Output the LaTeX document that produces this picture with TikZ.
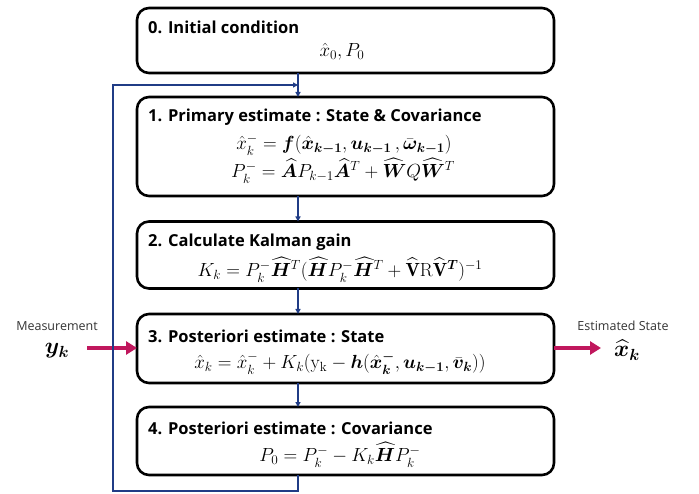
\RequirePackage{fix-cm}
\documentclass[tikz,border=0pt]{standalone}
\usepackage{amsmath,amssymb,bm}
\usepackage{fontspec}
\newfontfamily\hdfont{Open Sans}
\newfontfamily\sdfont{Open Sans}
\usetikzlibrary{arrows.meta}
\definecolor{navy}{HTML}{203C86}
\definecolor{pinkarrow}{HTML}{C0175D}
\definecolor{lbl}{HTML}{333333}
\tikzset{
  box/.style={draw=black, line width=2.6pt, rounded corners=12pt, minimum width=417pt, inner sep=0pt, outer sep=0pt},
  head/.style={anchor=west, inner sep=0pt, font=\hdfont\bfseries\fontsize{16.5}{19}\selectfont},
  eq/.style={inner sep=0pt, font=\fontsize{19}{23}\selectfont},
  nav/.style={draw=navy, line width=1.4pt, -{Triangle[length=5pt,width=5pt]}},
  pk/.style={draw=pinkarrow, line width=4pt, -{Triangle[length=11pt,width=13pt]}},
  side/.style={inner sep=0pt, text=lbl, font=\sdfont\fontsize{12.5}{15}\selectfont},
}
\begin{document}
\begin{tikzpicture}[x=1pt,y=-1pt]
\useasboundingbox (0,0) rectangle (699,494);
% boxes
\node[box, minimum height=65pt] (b0) at (345.5,40.5) {};
\node[box, minimum height=99pt] (b1) at (345.5,146.5) {};
\node[box, minimum height=67pt] (b2) at (345.5,255) {};
\node[box, minimum height=69pt] (b3) at (345.5,348.5) {};
\node[box, minimum height=68pt] (b4) at (345.5,441) {};
% headings
\node[head] (h0) at (148,27) {0. Initial condition};
\node[head] (h1) at (148,117) {1. Primary estimate : State \& Covariance};
\node[head] (h2) at (148,242) {2. Calculate Kalman gain};
\node[head] (h3) at (148,336) {3. Posteriori estimate : State};
\node[head] (h4) at (148,428) {4. Posteriori estimate : Covariance};
% equations
\node[eq] (e0) at (342,52) {$\hat{x}_0, P_0$};
\node[eq] (e1a) at (344,145) {$\hat{x}_k^- = \bm{f}(\hat{\bm{x}}_{\bm{k-1}}, \bm{u}_{\bm{k-1}}\,, \bar{\bm{\omega}}_{\bm{k-1}})$};
\node[eq] (e1b) at (343,171) {$P_k^- = \widehat{\bm{A}} P_{k-1} \widehat{\bm{A}}^T + \widehat{\bm{W}} Q \widehat{\bm{W}}^T$};
\node[eq] (e2) at (340,270) {$K_k = P_k^- \widehat{\bm{H}}^T (\widehat{\bm{H}} P_k^- \widehat{\bm{H}}^T + \widehat{\mathbf{V}}\mathrm{R}\widehat{\mathbf{V}}^{\bm{T}})^{-1}$};
\node[eq] (e3) at (340,363) {$\hat{x}_k = \hat{x}_k^- + K_k(\mathrm{y_k} - \bm{h}(\hat{\bm{x}}_{\bm{k}}^{\bm{-}}, \bm{u}_{\bm{k-1}}, \bar{\bm{v}}_{\bm{k}}))$};
\node[eq] (e4) at (340,455) {$P_0 = P_k^- - K_k \widehat{\bm{H}} P_k^-$};
% side labels
\node[side] (meas) at (57,326) {Measurement};
\node[eq, font=\fontsize{23}{27}\selectfont] (yk) at (57,351) {$\bm{y}_{\bm{k}}$};
\node[side] (est) at (623,326) {Estimated State};
\node[eq, font=\fontsize{23}{27}\selectfont] (xk) at (627,350) {$\widehat{\bm{x}}_{\bm{k}}$};
\coordinate (pl) at (87,348);
\coordinate (pr) at (601,348);
\draw[pk] (pl) -- (pl -| b3.west);
\draw[pk] (b3.east |- pl) -- (pr);
% navy connectors
\coordinate (ax) at (298,0);
\coordinate (lpy) at (0,85);
\coordinate (lb) at (113,491);
\draw[nav] (b0.south -| ax) -- (b1.north -| ax);
\draw[nav] (b1.south -| ax) -- (b2.north -| ax);
\draw[nav] (b2.south -| ax) -- (b3.north -| ax);
\draw[nav] (b3.south -| ax) -- (b4.north -| ax);
\draw[nav] (b4.south -| ax) -- (lb -| ax) -- (lb) -- (lb |- lpy) -- (ax |- lpy);
\end{tikzpicture}
\end{document}
